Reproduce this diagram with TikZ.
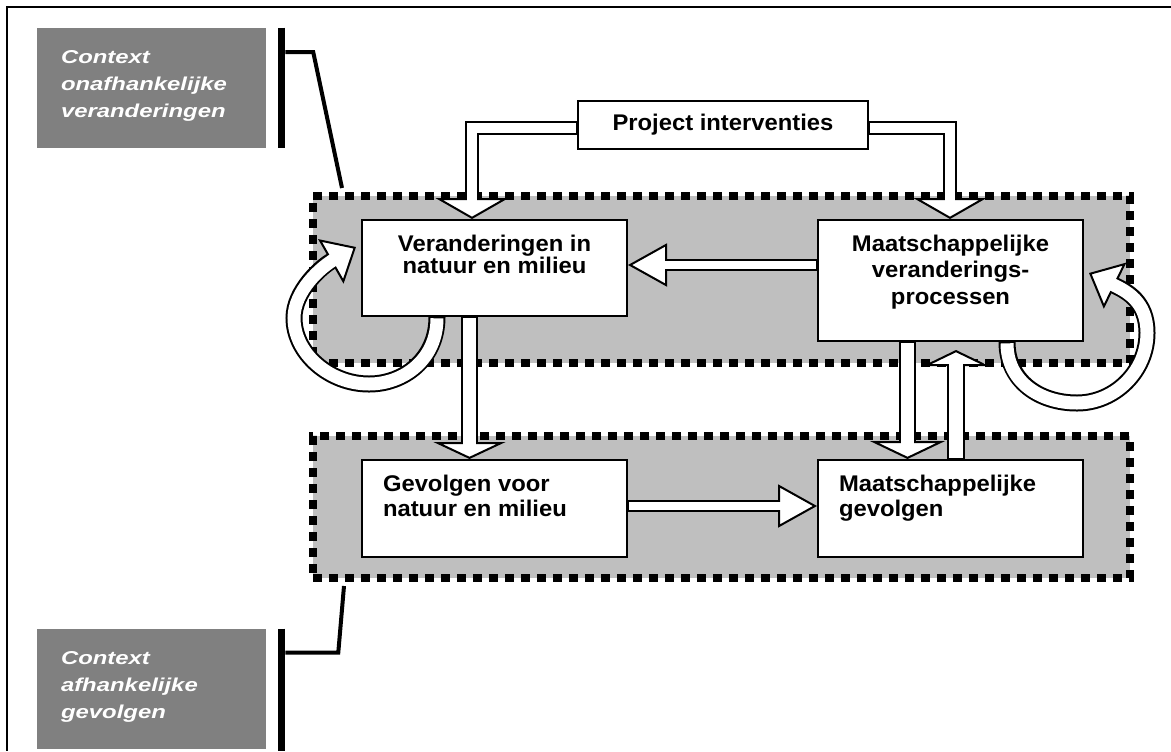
\documentclass[tikz,border=0pt]{standalone}
\usepackage{fontspec}
\setmainfont{Liberation Sans}
\newfontfamily\boxfont[FakeStretch=1.05]{Liberation Sans Bold}
\newfontfamily\ctxfont[FakeStretch=1.28]{Liberation Sans Bold Italic}
\usepackage{tikz}
\usetikzlibrary{arrows.meta}
\usetikzlibrary{calc}

\tikzset{
	box/.style={draw, line width=1.5pt, fill=white, inner xsep=15.75pt, inner ysep=11pt, font=\boxfont\fontsize{17pt}{20pt}\selectfont},
	ctx/.style={fill=gray, text=white, inner xsep=18pt, inner ysep=16.5pt, font=\ctxfont\fontsize{14pt}{20.25pt}\selectfont},
	region/.style={draw, fill=gray!50, line width=6pt, dash pattern=on 6.75pt off 5.25pt, inner sep=0pt, minimum width=612.75pt},
	barrow/.style n args={3}{draw, line width=#1, -{Triangle[length=#2, width=#3, line width=1.5pt, fill=white]}, postaction={draw=white, line width=#1-3pt, arrows=-, shorten <=1pt, shorten >=#2-3pt}},
	bracket/.style={line width=5.25pt},
	link/.style={line width=3pt}
}

\begin{document}
\begin{tikzpicture}[x=0.75pt, y=-0.75pt]
	\useasboundingbox (0,0) rectangle (1171,751);
	\draw[line width=1.75pt] (1171,7) -- (7,7) -- (7,751);
	\node[ctx] (ci) at (151.5,88) {\parbox[t][57pt][t]{135.75pt}{\raggedright Context\\onafhankelijke\\veranderingen}};
	\node[ctx] (cd) at (151.5,689) {\parbox[t][57pt][t]{135.75pt}{\raggedright Context\\afhankelijke\\gevolgen}};
	\node[region, minimum height=125.25pt] (r1) at (721.5,279.5) {};
	\node[region, minimum height=106.5pt] (r2) at (721.5,507) {};
	\draw[bracket] ($(ci.north east)+(15.5,0)$) -- ($(ci.south east)+(15.5,0)$);
	\draw[link] ($(ci.north east)+(19,24.5)$) -- ++(28,0) -- ($(r1.north west)+(33,-4)$);
	\draw[bracket] ($(cd.north east)+(15.5,0)$) -- ($(cd.south east)+(15.5,2)$);
	\draw[link] ($(cd.north east)+(19,24)$) -- ++(53,0) -- ($(r2.south west)+(35,4)$);
	\node[box, minimum width=217.5pt, minimum height=36pt, inner ysep=2pt] (pi) at (723,125) {Project interventies};
	\node[box] (vn) at (494.5,268) {\parbox[t][50pt][t]{167.25pt}{\centering\baselineskip=15.75pt Veranderingen in\\natuur en milieu}};
	\node[box] (mv) at (950.5,280.5) {\parbox[t][68.75pt][t]{167.25pt}{\centering\baselineskip=19.9pt Maatschappelijke\\veranderings-\\processen}};
	\node[box] (gn) at (494.5,508.5) {\parbox[t][50.75pt][t]{167.25pt}{\raggedright\baselineskip=18.75pt Gevolgen voor\\natuur en milieu}};
	\node[box] (mg) at (950.5,508.5) {\parbox[t][50.75pt][t]{167.25pt}{\raggedright\baselineskip=18.75pt Maatschappelijke\\gevolgen}};
	\draw[barrow={10.5pt}{15.75pt}{54.75pt}] ($(pi.west)+(0,3)$) -| ($(vn.north west)+(111,0)$);
	\draw[barrow={10.5pt}{15.75pt}{54.75pt}] ($(pi.east)+(0,3)$) -| ($(mv.north west)+(133,0)$);
	\draw[barrow={9pt}{29.25pt}{32.25pt}] ($(mv.west)+(0,-15.5)$) -- ($(vn.east)+(0,-3)$);
	\draw[barrow={9pt}{29.25pt}{32.25pt}] ($(gn.east)+(0,-2.5)$) -- ($(mg.west)+(0,-2.5)$);
	\draw[barrow={12.75pt}{12.75pt}{54pt}] ($(vn.south west)+(108.5,0)$) -- ($(gn.north west)+(108.5,0)$);
	\draw[barrow={12.75pt}{13.5pt}{56.25pt}] ($(mv.south west)+(90.5,0)$) -- ($(mg.north west)+(90.5,0)$);
	\draw[barrow={13.5pt}{12pt}{49.5pt}] ($(mg.north west)+(139,0)$) -- ($(mv.south west)+(139,8)$);
	\begin{scope}[shift={(vn.south west)}]
		\draw[barrow={12.75pt}{21.75pt}{38.25pt}] (76,0) .. controls (76,42) and (43,67) .. (8,67) .. controls (-32,67) and (-67,36) .. (-67,1) .. controls (-67,-26) and (-40,-50) .. (-5,-70);
	\end{scope}
	\begin{scope}[shift={(mv.south east)}]
		\draw[barrow={12.75pt}{21.75pt}{38.25pt}] (-77,0) .. controls (-77,39) and (-45,61) .. (-7,61) .. controls (31,61) and (63,29) .. (63,-9) .. controls (63,-41) and (42,-51) .. (5,-69);
	\end{scope}
\end{tikzpicture}
\end{document}
